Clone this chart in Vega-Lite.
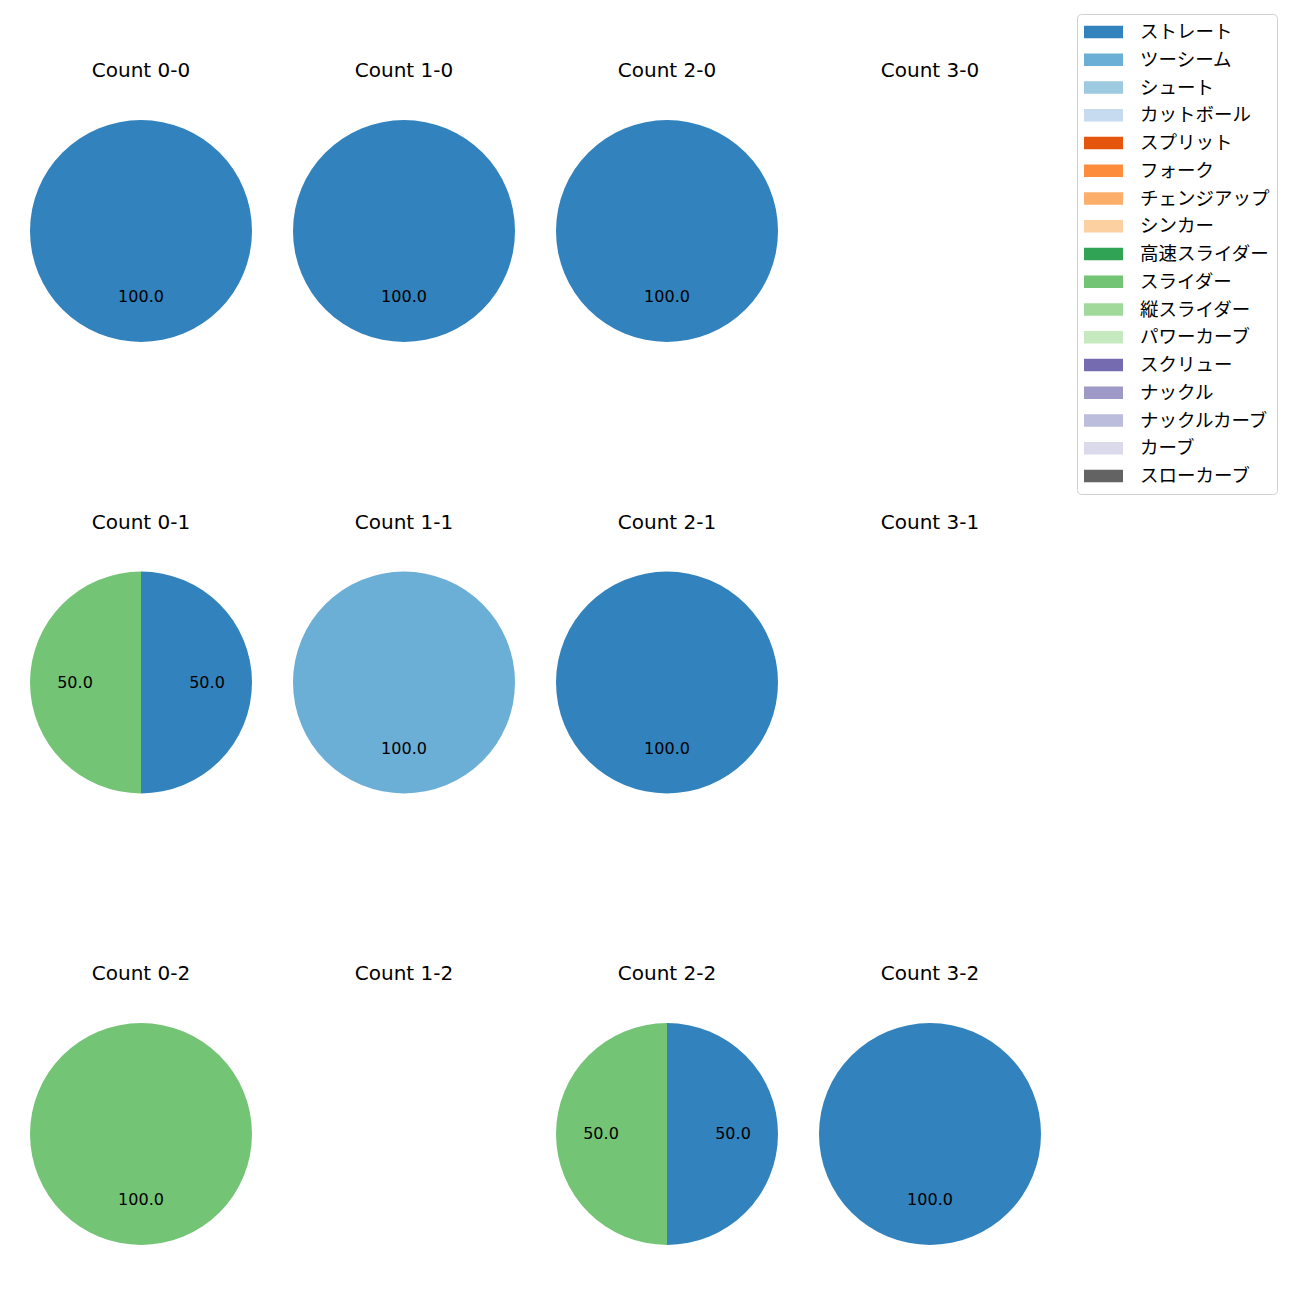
{
  "$schema": "https://vega.github.io/schema/vega-lite/v6.json",
  "padding": {"left": 30, "top": 13, "right": 0, "bottom": 0},
  "background": "white",
  "data": {"values": [
    {"panel": "0-0", "pitch": "ストレート", "idx": 0, "value": 100},
    {"panel": "1-0", "pitch": "ストレート", "idx": 0, "value": 100},
    {"panel": "2-0", "pitch": "ストレート", "idx": 0, "value": 100},
    {"panel": "0-1", "pitch": "ストレート", "idx": 0, "value": 50},
    {"panel": "0-1", "pitch": "スライダー", "idx": 9, "value": 50},
    {"panel": "1-1", "pitch": "ツーシーム", "idx": 1, "value": 100},
    {"panel": "2-1", "pitch": "ストレート", "idx": 0, "value": 100},
    {"panel": "0-2", "pitch": "スライダー", "idx": 9, "value": 100},
    {"panel": "2-2", "pitch": "ストレート", "idx": 0, "value": 50},
    {"panel": "2-2", "pitch": "スライダー", "idx": 9, "value": 50},
    {"panel": "3-2", "pitch": "ストレート", "idx": 0, "value": 100}
  ]},
  "config": {
    "font": "Noto Sans CJK JP",
    "view": {"stroke": null},
    "title": {"font": "DejaVu Sans", "fontSize": 20, "fontWeight": "normal", "color": "black", "offset": 39},
    "concat": {"spacing": 41},
    "text": {"font": "DejaVu Sans"},
    "legend": {
      "orient": "none",
      "legendX": 1047,
      "legendY": -106,
      "labelFont": "Noto Sans CJK JP",
      "labelFontSize": 18.5,
      "labelColor": "black",
      "symbolType": "M-1,-0.32H1V0.32H-1Z",
      "symbolSize": 1521,
      "symbolStrokeWidth": 0,
      "labelOffset": 17,
      "strokeColor": "#d0d0d0",
      "cornerRadius": 4,
      "padding": 7,
      "clipHeight": 22,
      "rowPadding": 5.75,
      "labelLimit": 300
    }
  },
  "vconcat": [
    {"spacing": 41, "hconcat": [
      {"title": "Count 0-0", "width": 222, "height": 222, "transform": [{"filter": "datum.panel === '0-0'"}], "layer": [
        {"mark": {"type": "arc"}, "encoding": {"theta": {"field": "value", "type": "quantitative", "stack": true}, "order": {"field": "idx", "type": "quantitative"}, "color": {"field": "pitch", "type": "nominal", "title": null, "scale": {"domain": ["ストレート","ツーシーム","シュート","カットボール","スプリット","フォーク","チェンジアップ","シンカー","高速スライダー","スライダー","縦スライダー","パワーカーブ","スクリュー","ナックル","ナックルカーブ","カーブ","スローカーブ"], "range": ["#3182bd","#6baed6","#9ecae1","#c6dbef","#e6550d","#fd8d3c","#fdae6b","#fdd0a2","#31a354","#74c476","#a1d99b","#c7e9c0","#756bb1","#9e9ac8","#bcbddc","#dadaeb","#636363"]}}}},
        {"mark": {"type": "text", "radius": 66, "fontSize": 16, "color": "black"}, "encoding": {"theta": {"field": "value", "type": "quantitative", "stack": true}, "order": {"field": "idx", "type": "quantitative"}, "detail": {"field": "pitch"}, "text": {"field": "value", "type": "quantitative", "format": ".1f"}}}
      ]},
      {"title": "Count 1-0", "width": 222, "height": 222, "transform": [{"filter": "datum.panel === '1-0'"}], "layer": [
        {"mark": {"type": "arc"}, "encoding": {"theta": {"field": "value", "type": "quantitative", "stack": true}, "order": {"field": "idx", "type": "quantitative"}, "color": {"field": "pitch", "type": "nominal"}}},
        {"mark": {"type": "text", "radius": 66, "fontSize": 16, "color": "black"}, "encoding": {"theta": {"field": "value", "type": "quantitative", "stack": true}, "order": {"field": "idx", "type": "quantitative"}, "detail": {"field": "pitch"}, "text": {"field": "value", "type": "quantitative", "format": ".1f"}}}
      ]},
      {"title": "Count 2-0", "width": 222, "height": 222, "transform": [{"filter": "datum.panel === '2-0'"}], "layer": [
        {"mark": {"type": "arc"}, "encoding": {"theta": {"field": "value", "type": "quantitative", "stack": true}, "order": {"field": "idx", "type": "quantitative"}, "color": {"field": "pitch", "type": "nominal"}}},
        {"mark": {"type": "text", "radius": 66, "fontSize": 16, "color": "black"}, "encoding": {"theta": {"field": "value", "type": "quantitative", "stack": true}, "order": {"field": "idx", "type": "quantitative"}, "detail": {"field": "pitch"}, "text": {"field": "value", "type": "quantitative", "format": ".1f"}}}
      ]},
      {"title": "Count 3-0", "width": 222, "height": 222, "transform": [{"filter": "datum.panel === '3-0'"}], "layer": [
        {"mark": {"type": "arc"}, "encoding": {"theta": {"field": "value", "type": "quantitative", "stack": true}, "order": {"field": "idx", "type": "quantitative"}, "color": {"field": "pitch", "type": "nominal"}}},
        {"mark": {"type": "text", "radius": 66, "fontSize": 16, "color": "black"}, "encoding": {"theta": {"field": "value", "type": "quantitative", "stack": true}, "order": {"field": "idx", "type": "quantitative"}, "detail": {"field": "pitch"}, "text": {"field": "value", "type": "quantitative", "format": ".1f"}}}
      ]}
    ]},
    {"spacing": 41, "hconcat": [
      {"title": "Count 0-1", "width": 222, "height": 222, "transform": [{"filter": "datum.panel === '0-1'"}], "layer": [
        {"mark": {"type": "arc"}, "encoding": {"theta": {"field": "value", "type": "quantitative", "stack": true}, "order": {"field": "idx", "type": "quantitative"}, "color": {"field": "pitch", "type": "nominal"}}},
        {"mark": {"type": "text", "radius": 66, "fontSize": 16, "color": "black"}, "encoding": {"theta": {"field": "value", "type": "quantitative", "stack": true}, "order": {"field": "idx", "type": "quantitative"}, "detail": {"field": "pitch"}, "text": {"field": "value", "type": "quantitative", "format": ".1f"}}}
      ]},
      {"title": "Count 1-1", "width": 222, "height": 222, "transform": [{"filter": "datum.panel === '1-1'"}], "layer": [
        {"mark": {"type": "arc"}, "encoding": {"theta": {"field": "value", "type": "quantitative", "stack": true}, "order": {"field": "idx", "type": "quantitative"}, "color": {"field": "pitch", "type": "nominal"}}},
        {"mark": {"type": "text", "radius": 66, "fontSize": 16, "color": "black"}, "encoding": {"theta": {"field": "value", "type": "quantitative", "stack": true}, "order": {"field": "idx", "type": "quantitative"}, "detail": {"field": "pitch"}, "text": {"field": "value", "type": "quantitative", "format": ".1f"}}}
      ]},
      {"title": "Count 2-1", "width": 222, "height": 222, "transform": [{"filter": "datum.panel === '2-1'"}], "layer": [
        {"mark": {"type": "arc"}, "encoding": {"theta": {"field": "value", "type": "quantitative", "stack": true}, "order": {"field": "idx", "type": "quantitative"}, "color": {"field": "pitch", "type": "nominal"}}},
        {"mark": {"type": "text", "radius": 66, "fontSize": 16, "color": "black"}, "encoding": {"theta": {"field": "value", "type": "quantitative", "stack": true}, "order": {"field": "idx", "type": "quantitative"}, "detail": {"field": "pitch"}, "text": {"field": "value", "type": "quantitative", "format": ".1f"}}}
      ]},
      {"title": "Count 3-1", "width": 222, "height": 222, "transform": [{"filter": "datum.panel === '3-1'"}], "layer": [
        {"mark": {"type": "arc"}, "encoding": {"theta": {"field": "value", "type": "quantitative", "stack": true}, "order": {"field": "idx", "type": "quantitative"}, "color": {"field": "pitch", "type": "nominal"}}},
        {"mark": {"type": "text", "radius": 66, "fontSize": 16, "color": "black"}, "encoding": {"theta": {"field": "value", "type": "quantitative", "stack": true}, "order": {"field": "idx", "type": "quantitative"}, "detail": {"field": "pitch"}, "text": {"field": "value", "type": "quantitative", "format": ".1f"}}}
      ]}
    ]},
    {"spacing": 41, "hconcat": [
      {"title": "Count 0-2", "width": 222, "height": 222, "transform": [{"filter": "datum.panel === '0-2'"}], "layer": [
        {"mark": {"type": "arc"}, "encoding": {"theta": {"field": "value", "type": "quantitative", "stack": true}, "order": {"field": "idx", "type": "quantitative"}, "color": {"field": "pitch", "type": "nominal"}}},
        {"mark": {"type": "text", "radius": 66, "fontSize": 16, "color": "black"}, "encoding": {"theta": {"field": "value", "type": "quantitative", "stack": true}, "order": {"field": "idx", "type": "quantitative"}, "detail": {"field": "pitch"}, "text": {"field": "value", "type": "quantitative", "format": ".1f"}}}
      ]},
      {"title": "Count 1-2", "width": 222, "height": 222, "transform": [{"filter": "datum.panel === '1-2'"}], "layer": [
        {"mark": {"type": "arc"}, "encoding": {"theta": {"field": "value", "type": "quantitative", "stack": true}, "order": {"field": "idx", "type": "quantitative"}, "color": {"field": "pitch", "type": "nominal"}}},
        {"mark": {"type": "text", "radius": 66, "fontSize": 16, "color": "black"}, "encoding": {"theta": {"field": "value", "type": "quantitative", "stack": true}, "order": {"field": "idx", "type": "quantitative"}, "detail": {"field": "pitch"}, "text": {"field": "value", "type": "quantitative", "format": ".1f"}}}
      ]},
      {"title": "Count 2-2", "width": 222, "height": 222, "transform": [{"filter": "datum.panel === '2-2'"}], "layer": [
        {"mark": {"type": "arc"}, "encoding": {"theta": {"field": "value", "type": "quantitative", "stack": true}, "order": {"field": "idx", "type": "quantitative"}, "color": {"field": "pitch", "type": "nominal"}}},
        {"mark": {"type": "text", "radius": 66, "fontSize": 16, "color": "black"}, "encoding": {"theta": {"field": "value", "type": "quantitative", "stack": true}, "order": {"field": "idx", "type": "quantitative"}, "detail": {"field": "pitch"}, "text": {"field": "value", "type": "quantitative", "format": ".1f"}}}
      ]},
      {"title": "Count 3-2", "width": 222, "height": 222, "transform": [{"filter": "datum.panel === '3-2'"}], "layer": [
        {"mark": {"type": "arc"}, "encoding": {"theta": {"field": "value", "type": "quantitative", "stack": true}, "order": {"field": "idx", "type": "quantitative"}, "color": {"field": "pitch", "type": "nominal"}}},
        {"mark": {"type": "text", "radius": 66, "fontSize": 16, "color": "black"}, "encoding": {"theta": {"field": "value", "type": "quantitative", "stack": true}, "order": {"field": "idx", "type": "quantitative"}, "detail": {"field": "pitch"}, "text": {"field": "value", "type": "quantitative", "format": ".1f"}}}
      ]}
    ]}
  ],
  "spacing": 170.5
}
